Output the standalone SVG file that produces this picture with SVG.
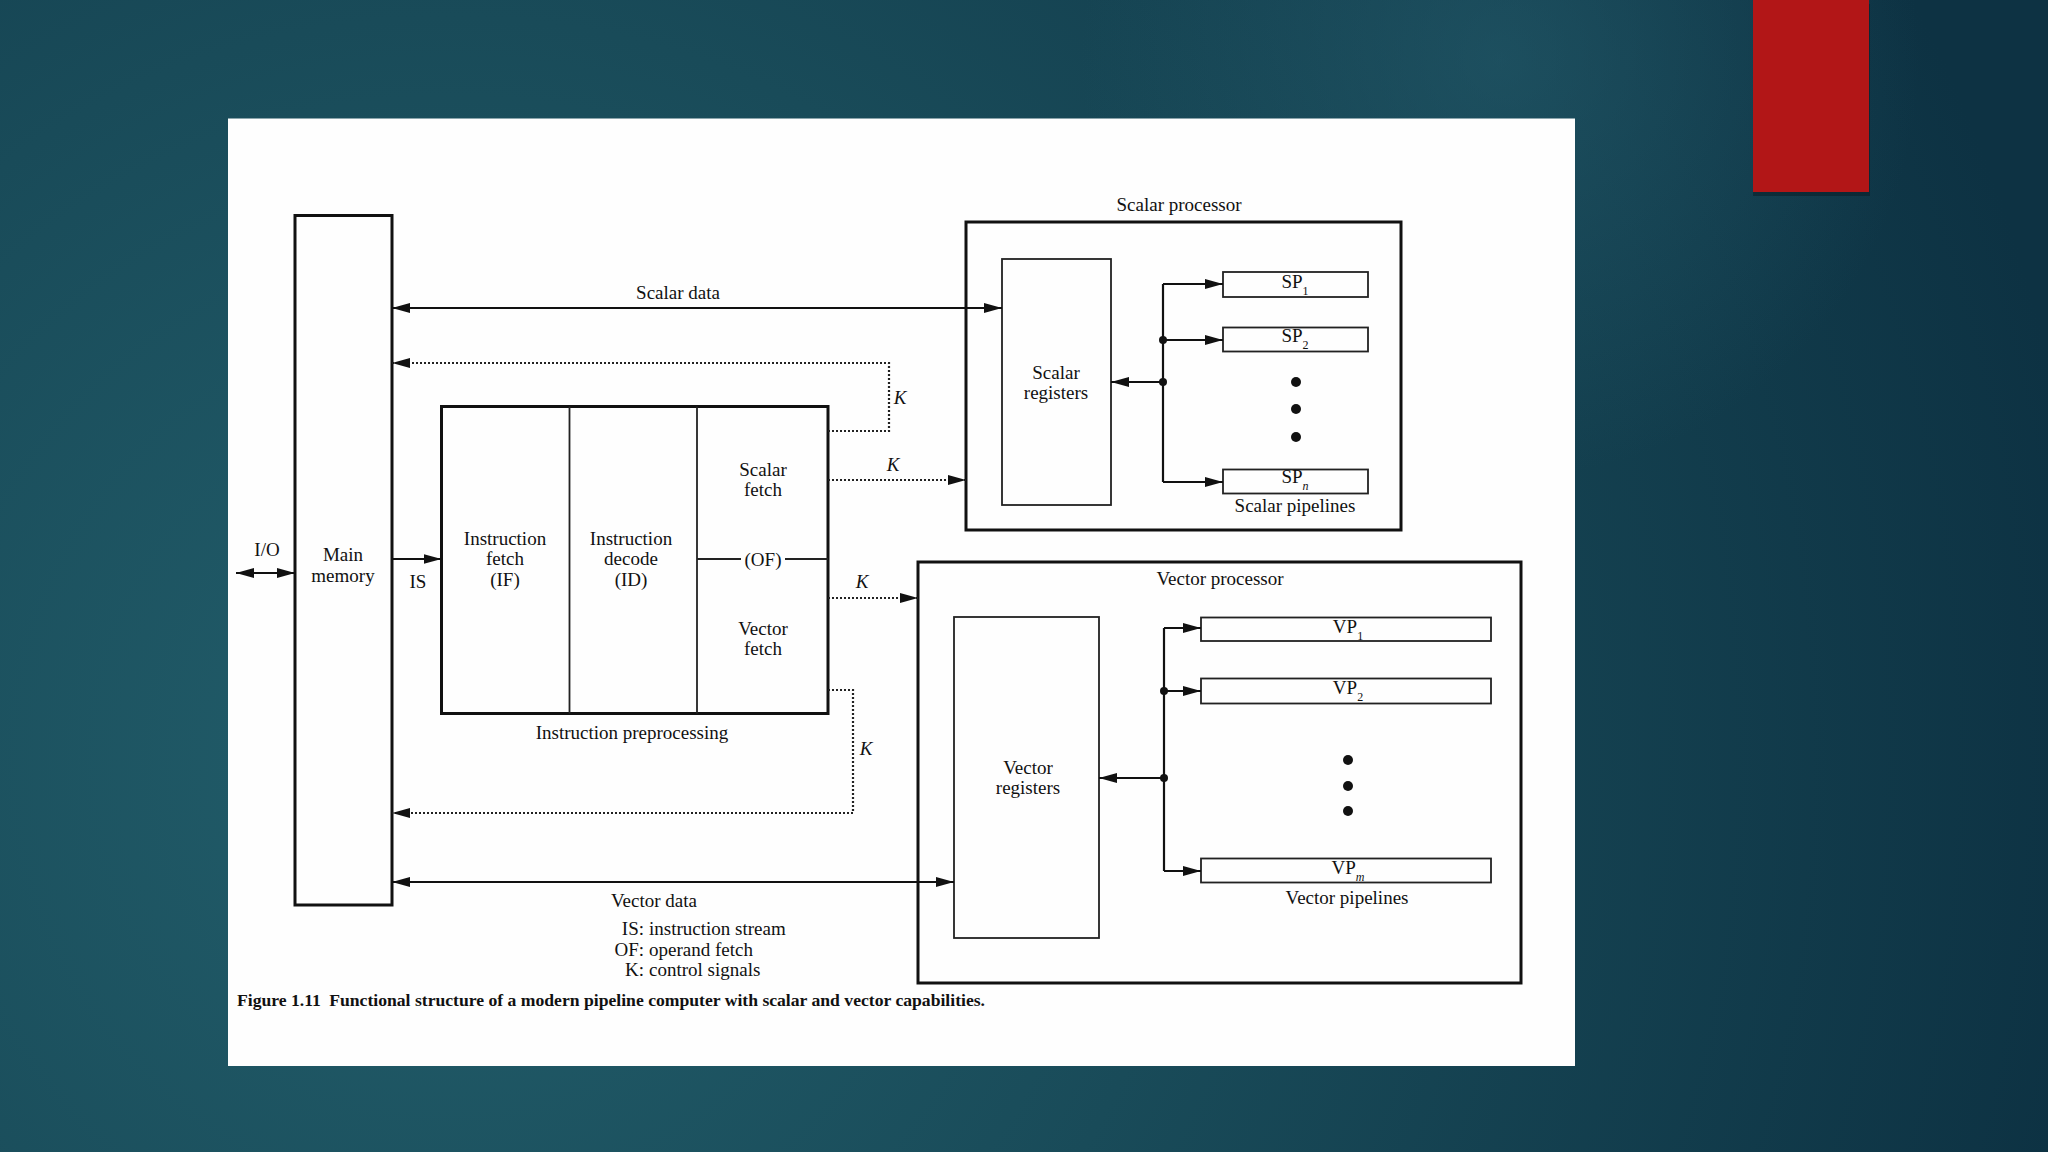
<svg xmlns="http://www.w3.org/2000/svg" width="2048" height="1152" viewBox="0 0 2048 1152">
<defs>
<radialGradient id="bg" cx="450" cy="760" r="1650" gradientUnits="userSpaceOnUse">
<stop offset="0" stop-color="#225e6b"/>
<stop offset="0.45" stop-color="#194b59"/>
<stop offset="1" stop-color="#0d3243"/>
</radialGradient>
<radialGradient id="glow" cx="1500" cy="60" r="420" gradientUnits="userSpaceOnUse">
<stop offset="0" stop-color="#2a6676" stop-opacity="0.45"/>
<stop offset="1" stop-color="#2a6676" stop-opacity="0"/>
</radialGradient>
<marker id="ah" viewBox="0 0 18 10" refX="18" refY="5" markerWidth="18" markerHeight="10" markerUnits="userSpaceOnUse" orient="auto-start-reverse">
<path d="M0,0 L18,5 L0,10 z" fill="#111"/>
</marker>
<style>
.thick{fill:none;stroke:#111;stroke-width:3}
.thin{fill:none;stroke:#222;stroke-width:1.8}
.wire{fill:none;stroke:#111;stroke-width:2.2}
.dotted{fill:none;stroke:#222;stroke-width:2.2;stroke-dasharray:2 2}
.t{font-family:"Liberation Serif","Times New Roman",serif;font-size:19px;fill:#111;text-anchor:middle}
.k{font-style:italic}
.sub{font-size:12px}
.lg{font-family:"Liberation Serif","Times New Roman",serif;font-size:19px;fill:#111}
.cap{font-family:"Liberation Serif","Times New Roman",serif;font-size:17px;font-weight:bold;fill:#111}
.jd{fill:#111}
</style>
</defs>

<rect x="0" y="0" width="2048" height="1152" fill="url(#bg)"/>
<rect x="0" y="0" width="2048" height="1152" fill="url(#glow)"/>

<!-- red accent -->
<rect x="1753" y="4" width="117" height="192" fill="#0a1e26" opacity="0.55"/>
<rect x="1753" y="0" width="116" height="192" fill="#b21617"/>

<!-- white panel -->
<rect x="228" y="118.5" width="1347" height="947.5" fill="#fefefe"/>

<g id="main-memory">
<rect class="thick" x="295" y="215.5" width="97" height="689.5"/>
<text class="t" x="343" y="561">Main</text>
<text class="t" x="343" y="582">memory</text>
</g>

<g id="instruction-preprocessing">
<rect class="thick" x="441.5" y="406.5" width="386.5" height="307"/>
<line class="thin" x1="569.5" y1="406.5" x2="569.5" y2="713.5"/>
<line class="thin" x1="697" y1="406.5" x2="697" y2="713.5"/>
<line class="thin" x1="697" y1="559" x2="741" y2="559"/>
<line class="thin" x1="785" y1="559" x2="828" y2="559"/>
<text class="t" x="505" y="545">Instruction</text>
<text class="t" x="505" y="565">fetch</text>
<text class="t" x="505" y="586">(IF)</text>
<text class="t" x="631" y="545">Instruction</text>
<text class="t" x="631" y="565">decode</text>
<text class="t" x="631" y="586">(ID)</text>
<text class="t" x="763" y="476">Scalar</text>
<text class="t" x="763" y="496">fetch</text>
<text class="t" x="763" y="566">(OF)</text>
<text class="t" x="763" y="635">Vector</text>
<text class="t" x="763" y="655">fetch</text>
<text class="t" x="632" y="739">Instruction preprocessing</text>
</g>

<g id="scalar-processor">
<rect class="thick" x="966" y="222" width="435" height="308"/>
<text class="t" x="1179" y="211">Scalar processor</text>
<g id="scalar-registers">
<rect class="thin" x="1002" y="259" width="109" height="246"/>
<text class="t" x="1056" y="379">Scalar</text>
<text class="t" x="1056" y="399">registers</text>
</g>
<g id="sp1">
<rect class="thin" x="1223" y="272" width="145" height="25"/>
<text class="t" x="1295" y="288">SP<tspan class="sub" dy="7">1</tspan></text>
</g>
<g id="sp2">
<rect class="thin" x="1223" y="327.5" width="145" height="24"/>
<text class="t" x="1295" y="342">SP<tspan class="sub" dy="7">2</tspan></text>
</g>
<g id="spn">
<rect class="thin" x="1223" y="469.5" width="145" height="24"/>
<text class="t" x="1295" y="483">SP<tspan class="sub k" dy="7">n</tspan></text>
</g>
<circle class="jd" cx="1296" cy="382" r="5"/>
<circle class="jd" cx="1296" cy="409" r="5"/>
<circle class="jd" cx="1296" cy="437" r="5"/>
<text class="t" x="1295" y="512">Scalar pipelines</text>
</g>

<g id="vector-processor">
<rect class="thick" x="918" y="562" width="603" height="421"/>
<text class="t" x="1220" y="585">Vector processor</text>
<g id="vector-registers">
<rect class="thin" x="954" y="617" width="145" height="321"/>
<text class="t" x="1028" y="774">Vector</text>
<text class="t" x="1028" y="794">registers</text>
</g>
<g id="vp1">
<rect class="thin" x="1201" y="617.5" width="290" height="23.5"/>
<text class="t" x="1348" y="633">VP<tspan class="sub" dy="7">1</tspan></text>
</g>
<g id="vp2">
<rect class="thin" x="1201" y="678.5" width="290" height="25"/>
<text class="t" x="1348" y="694">VP<tspan class="sub" dy="7">2</tspan></text>
</g>
<g id="vpm">
<rect class="thin" x="1201" y="858.5" width="290" height="24"/>
<text class="t" x="1348" y="874">VP<tspan class="sub k" dy="7">m</tspan></text>
</g>
<circle class="jd" cx="1348" cy="760" r="5"/>
<circle class="jd" cx="1348" cy="786" r="5"/>
<circle class="jd" cx="1348" cy="811" r="5"/>
<text class="t" x="1347" y="904">Vector pipelines</text>
</g>

<g id="connectors">
<path class="wire" d="M392,308 H1002" marker-start="url(#ah)" marker-end="url(#ah)"/>
<path class="wire" d="M392,559 H441.5" marker-end="url(#ah)"/>
<path class="wire" d="M236,573 H295" marker-start="url(#ah)" marker-end="url(#ah)"/>
<path class="dotted" d="M828,431 H889 V363 H392" marker-end="url(#ah)"/>
<path class="dotted" d="M828,480 H966" marker-end="url(#ah)"/>
<path class="dotted" d="M828,598 H918" marker-end="url(#ah)"/>
<path class="dotted" d="M828,690 H853 V813 H392" marker-end="url(#ah)"/>
<path class="wire" d="M392,882 H954" marker-start="url(#ah)" marker-end="url(#ah)"/>
<path class="wire" d="M1163,284 V482"/>
<path class="wire" d="M1163,284 H1223" marker-end="url(#ah)"/>
<path class="wire" d="M1163,340 H1223" marker-end="url(#ah)"/>
<path class="wire" d="M1163,482 H1223" marker-end="url(#ah)"/>
<path class="wire" d="M1163,382 H1111" marker-end="url(#ah)"/>
<circle class="jd" cx="1163" cy="340" r="4"/>
<circle class="jd" cx="1163" cy="382" r="4"/>
<path class="wire" d="M1164,628 V871"/>
<path class="wire" d="M1164,628 H1201" marker-end="url(#ah)"/>
<path class="wire" d="M1164,691 H1201" marker-end="url(#ah)"/>
<path class="wire" d="M1164,871 H1201" marker-end="url(#ah)"/>
<path class="wire" d="M1164,778 H1099" marker-end="url(#ah)"/>
<circle class="jd" cx="1164" cy="691" r="4"/>
<circle class="jd" cx="1164" cy="778" r="4"/>
</g>

<g id="labels">
<text class="t" x="678" y="299">Scalar data</text>
<text class="t" x="654" y="907">Vector data</text>
<text class="t" x="267" y="556">I/O</text>
<text class="t" x="418" y="588">IS</text>
<text class="t k" x="900" y="404">K</text>
<text class="t k" x="893" y="471">K</text>
<text class="t k" x="862" y="588">K</text>
<text class="t k" x="866" y="755">K</text>
<text class="lg" x="644" y="935" text-anchor="end">IS:</text>
<text class="lg" x="649" y="935">instruction stream</text>
<text class="lg" x="644" y="956" text-anchor="end">OF:</text>
<text class="lg" x="649" y="956">operand fetch</text>
<text class="lg" x="644" y="976" text-anchor="end">K:</text>
<text class="lg" x="649" y="976">control signals</text>
<text class="cap" x="237" y="1006" textLength="748" lengthAdjust="spacingAndGlyphs">Figure 1.11<tspan dx="8">Functional structure of a modern pipeline computer with scalar and vector capabilities.</tspan></text>
</g>
</svg>
